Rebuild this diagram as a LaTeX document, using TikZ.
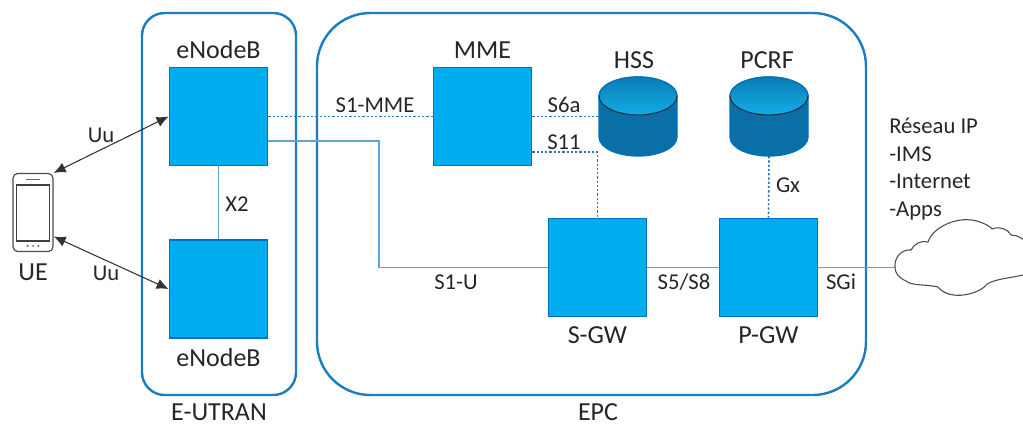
\documentclass[tikz,border=0pt]{standalone}
\usepackage{fontspec}
\setmainfont{Carlito}
\usetikzlibrary{arrows.meta,positioning,calc}
\definecolor{boxfill}{HTML}{00AEEF}
\definecolor{boxedge}{HTML}{0070C0}
\definecolor{frameblue}{HTML}{1B7CC4}
\definecolor{linkblue}{HTML}{5BA3D9}
\definecolor{dotblue}{HTML}{2E75B6}
\definecolor{dbdark}{HTML}{0A6FA6}
\definecolor{dbmid}{HTML}{1288C2}
\definecolor{dbtop}{HTML}{0B7CB4}
\definecolor{dblight}{HTML}{12AEE8}
\definecolor{txt}{HTML}{262626}
\tikzset{>=latex,
  netbox/.style={draw=boxedge,fill=boxfill,line width=1.3pt,minimum size=73.5pt,inner sep=0pt},
  frame/.style={draw=frameblue,line width=1.8pt},
  lbl/.style={text=txt,font=\fontsize{17}{20}\selectfont,inner sep=0pt},
  biglbl/.style={text=txt,font=\fontsize{19.5}{23}\selectfont,inner sep=0pt},
  solidlink/.style={draw=linkblue,line width=1.1pt},
  dotlink/.style={draw=dotblue,line width=1.2pt,dash pattern=on 1.7pt off 1.5pt},
  radiolink/.style={draw=black!80,line width=0.8pt,{Latex[length=9pt,width=8pt]}-{Latex[length=9pt,width=8pt]}}
}
\begin{document}
\begin{tikzpicture}[x=0.75pt,y=-0.75pt]
  \useasboundingbox (0,0) rectangle (1023,426);
  \clip (0,0) rectangle (1023,426);
  % domains
  \draw [frame,rounded corners=17pt] (142,13) rectangle (296,395);
  \draw [frame,rounded corners=40pt] (317,13) rectangle (866,395);
  % boxes
  \node (enbtop) [netbox] at (218.5,116.5) {};
  \node (enbbot) [netbox] at (218.5,289) {};
  \node (mme) [netbox] at (482.5,116.5) {};
  \node (sgw) [netbox] at (597.5,267.5) {};
  \node (pgw) [netbox] at (768.5,267.5) {};
  % databases
  \foreach \nm/\cx in {hss/638,pcrf/769}{
    \coordinate (\nm l) at (\cx-39,96);
    \node (\nm) [minimum width=58.5pt,minimum height=59pt,inner sep=0pt] at (\cx,116.5) {};
    \path [draw=boxedge,line width=1pt,left color=dbdark,middle color=dbmid,right color=dbdark]
      (\nm l) -- ++(0,41) arc [start angle=180,end angle=360,x radius=29.25pt,y radius=14.25pt] -- ++(0,-41) arc [start angle=0,end angle=180,x radius=29.25pt,y radius=14.25pt] -- cycle;
    \path [draw=boxedge,line width=1pt,top color=dbtop,bottom color=dblight]
      (\nm l) arc [start angle=180,end angle=-180,x radius=29.25pt,y radius=14.25pt];
    \draw [black!85,line width=0.6pt] (\nm l) arc [start angle=180,end angle=360,x radius=29.25pt,y radius=14.25pt];
  }
  % phone
  \node (ue) [draw=black!70,fill=white,line width=0.9pt,rounded corners=3.5pt,minimum width=30pt,minimum height=58.5pt,inner sep=0pt] at (33,212.5) {};
  \node (uescreen) [draw=black!75,line width=0.9pt,minimum width=25pt,minimum height=42pt,inner sep=0pt] at (33,213) {};
  \draw [black!60,line width=1pt] ([xshift=-5pt,yshift=3.8pt]uescreen.north) coordinate (spka) -- ([xshift=5pt,yshift=3.8pt]uescreen.north) coordinate (spkb);
  \foreach \dx in {-4,0,4}
    \fill [black!60] ([xshift=\dx pt,yshift=-3.2pt]uescreen.south) circle (0.8pt);
  % links
  \draw [radiolink] (ue.north east) -- (enbtop.west);
  \draw [radiolink] ([yshift=-18pt]ue.east) -- (enbbot.west);
  \draw [solidlink] (enbtop) -- (enbbot);
  \draw [dotlink] (enbtop.east) -- (mme.west);
  \draw [dotlink] (mme.east) -- (hss.west);
  \draw [dotlink] ([yshift=-26.5pt]mme.east) -| (sgw.north);
  \draw [dotlink] (pcrf.south) -- (pgw.north);
  \draw [solidlink] ([yshift=-18.5pt]enbtop.east) -| (379,267.5) -- (sgw.west);
  \draw [solidlink] (sgw) -- (pgw);
  \coordinate (cloudw) at (895,267.5);
  \draw [solidlink] (pgw.east) -- (cloudw);
  % cloud
  \draw [black!70,fill=white,line width=0.8pt] (cloudw)
    .. controls (894,257) and (902,249) .. (911,250)
    .. controls (914,244) and (921,240) .. (928,242)
    .. controls (932,228) and (958,214) .. (980,222)
    .. controls (985,224) and (990,226) .. (992,229)
    .. controls (999,226) and (1008,229) .. (1011,235)
    .. controls (1018,235) and (1024,239) .. (1030,246)
    -- (1030,274) -- (1023,275)
    .. controls (1010,278) and (995,279) .. (987,284)
    .. controls (980,294) and (950,302) .. (938,287)
    .. controls (925,284) and (912,286) .. (906,281)
    .. controls (899,278) and (895,273) .. (cloudw);
  % labels
  \node (enbtoplbl) [biglbl,above=6pt of enbtop] {eNodeB};
  \node (enbbotlbl) [biglbl,below=7pt of enbbot] {eNodeB};
  \node (mmelbl) [biglbl,above=6pt of mme] {MME};
  \node (hsslbl) [biglbl] at (634,60) {HSS};
  \node (pcrflbl) [biglbl] at (767,60) {PCRF};
  \node (sgwlbl) [biglbl,below=7pt of sgw] {S-GW};
  \node (pgwlbl) [biglbl,below=7pt of pgw] {P-GW};
  \node (eutranlbl) [biglbl] at (219,412.5) {E-UTRAN};
  \node (epclbl) [biglbl] at (598,412.5) {EPC};
  \node (uelbl) [biglbl] at (33,272) {UE};
  \node (uutop) [lbl] at (101,135) {Uu};
  \node (uubot) [lbl] at (106,273) {Uu};
  \node (x2) [lbl] at (237,204) {X2};
  \node (s1mme) [lbl] at (375,105) {S1-MME};
  \node (s6a) [lbl] at (564,105) {S6a};
  \node (s11) [lbl] at (564,142) {S11};
  \node (s1u) [lbl] at (456,282) {S1-U};
  \node (s5s8) [lbl] at (684,282) {S5/S8};
  \node (sgi) [lbl] at (841,282) {SGi};
  \node (gx) [lbl] at (788,185) {Gx};
  \node (ip) [lbl,anchor=north west,align=left,font=\fontsize{17}{20.7}\selectfont] at (889,118) {Réseau IP\\-IMS\\-Internet\\-Apps};
\end{tikzpicture}
\end{document}
